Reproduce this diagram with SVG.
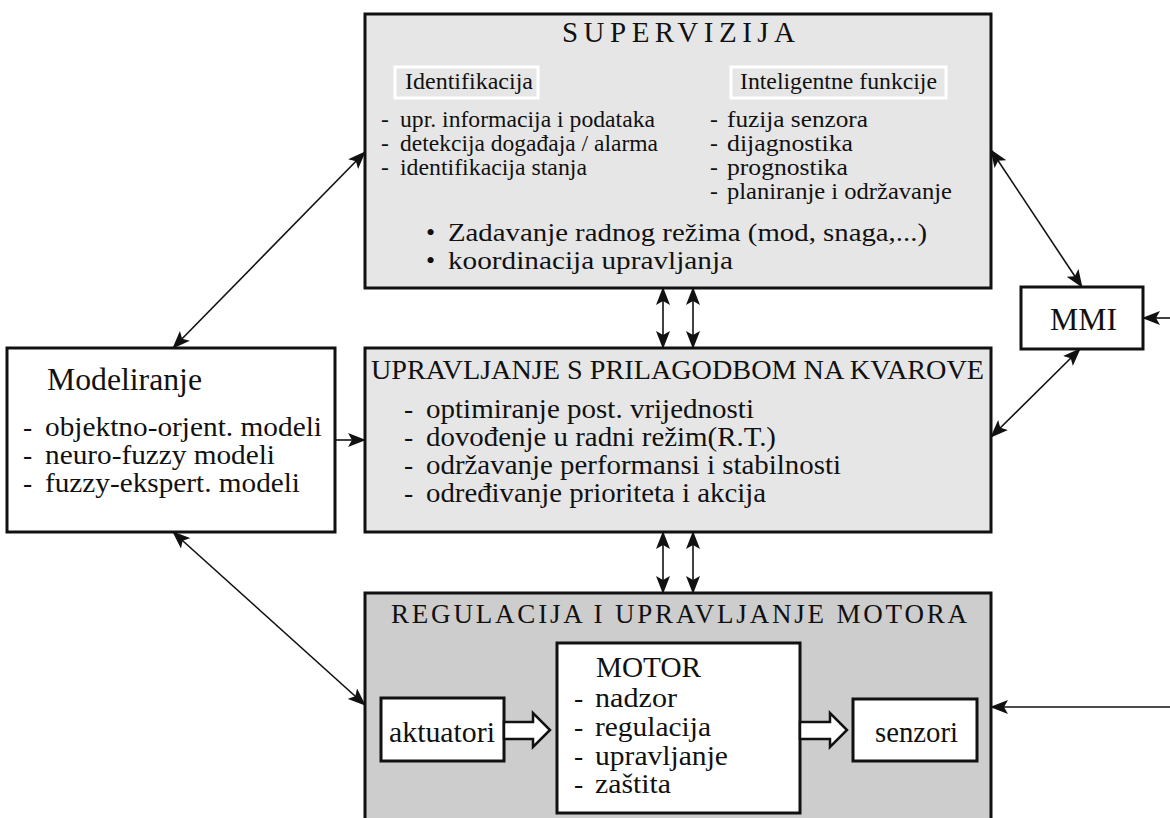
<svg xmlns="http://www.w3.org/2000/svg" width="1170" height="818" viewBox="0 0 1170 818">
<style>
text{font-family:"Liberation Serif","Times New Roman",serif;fill:#111;}
.box{stroke:#111;stroke-width:3;}
.lg{fill:#e6e6e6;}
.dg{fill:#cdcdcd;}
.wh{fill:#fff;}
.lab{fill:#e6e6e6;stroke:#fff;stroke-width:3;}
.con{stroke:#111;stroke-width:1.6;fill:none;}
.blk{fill:#fff;stroke:#111;stroke-width:2.5;stroke-linejoin:miter;}
.s23{font-size:23.5px;}
.s26{font-size:26px;}
.s27{font-size:27px;}
.s275{font-size:27.5px;}
.s29{font-size:29px;}
.s31{font-size:31px;}
</style>
<defs>
<marker id="ah" markerUnits="userSpaceOnUse" markerWidth="18" markerHeight="14" refX="17" refY="7" orient="auto-start-reverse" viewBox="0 0 18 14">
<path d="M0,0 L18,7 L0,14 L4,7 z" fill="#111"/>
</marker>
</defs>

<g id="supervizija">
<rect class="box lg" x="365" y="14" width="626" height="274"/>
<text class="s29" x="562" y="42" textLength="233" lengthAdjust="spacing">SUPERVIZIJA</text>
<rect class="lab" x="395" y="67" width="143" height="31"/>
<text class="s23" x="405" y="89" textLength="128" lengthAdjust="spacingAndGlyphs">Identifikacija</text>
<rect class="lab" x="731" y="67" width="215" height="31"/>
<text class="s23" x="740" y="89" textLength="197" lengthAdjust="spacingAndGlyphs">Inteligentne funkcije</text>
<text class="s23" x="381" y="127">-</text>
<text class="s23" x="400" y="127" textLength="255" lengthAdjust="spacingAndGlyphs">upr. informacija i podataka</text>
<text class="s23" x="381" y="151">-</text>
<text class="s23" x="400" y="151" textLength="258" lengthAdjust="spacingAndGlyphs">detekcija događaja / alarma</text>
<text class="s23" x="381" y="175">-</text>
<text class="s23" x="400" y="175" textLength="187" lengthAdjust="spacingAndGlyphs">identifikacija stanja</text>
<text class="s23" x="710" y="127">-</text>
<text class="s23" x="727" y="127" textLength="141" lengthAdjust="spacingAndGlyphs">fuzija senzora</text>
<text class="s23" x="710" y="151">-</text>
<text class="s23" x="727" y="151" textLength="126" lengthAdjust="spacingAndGlyphs">dijagnostika</text>
<text class="s23" x="710" y="175">-</text>
<text class="s23" x="727" y="175" textLength="121" lengthAdjust="spacingAndGlyphs">prognostika</text>
<text class="s23" x="710" y="199">-</text>
<text class="s23" x="727" y="199" textLength="225" lengthAdjust="spacingAndGlyphs">planiranje i održavanje</text>
<text class="s26" x="426" y="241">•</text>
<text class="s26" x="448" y="241" textLength="479" lengthAdjust="spacingAndGlyphs">Zadavanje radnog režima (mod, snaga,...)</text>
<text class="s26" x="426" y="269">•</text>
<text class="s26" x="448" y="269" textLength="285" lengthAdjust="spacingAndGlyphs">koordinacija upravljanja</text>
</g>

<g id="upravljanje">
<rect class="box lg" x="365" y="348" width="626" height="184"/>
<text class="s27" x="371" y="379" textLength="613" lengthAdjust="spacingAndGlyphs">UPRAVLJANJE S PRILAGODBOM NA KVAROVE</text>
<text class="s275" x="404" y="418">-</text>
<text class="s275" x="426" y="418" textLength="328" lengthAdjust="spacingAndGlyphs">optimiranje post. vrijednosti</text>
<text class="s275" x="404" y="446">-</text>
<text class="s275" x="426" y="446" textLength="350" lengthAdjust="spacingAndGlyphs">dovođenje u radni režim(R.T.)</text>
<text class="s275" x="404" y="474">-</text>
<text class="s275" x="426" y="474" textLength="415" lengthAdjust="spacingAndGlyphs">održavanje performansi i stabilnosti</text>
<text class="s275" x="404" y="502">-</text>
<text class="s275" x="426" y="502" textLength="340" lengthAdjust="spacingAndGlyphs">određivanje prioriteta i akcija</text>
</g>

<g id="modeliranje">
<rect class="box wh" x="7" y="348" width="328" height="184"/>
<text class="s31" x="47" y="390" textLength="155" lengthAdjust="spacingAndGlyphs">Modeliranje</text>
<text class="s275" x="23" y="436">-</text>
<text class="s275" x="45" y="436" textLength="277" lengthAdjust="spacingAndGlyphs">objektno-orjent. modeli</text>
<text class="s275" x="23" y="464">-</text>
<text class="s275" x="45" y="464" textLength="230" lengthAdjust="spacingAndGlyphs">neuro-fuzzy modeli</text>
<text class="s275" x="23" y="492">-</text>
<text class="s275" x="45" y="492" textLength="255" lengthAdjust="spacingAndGlyphs">fuzzy-ekspert. modeli</text>
</g>

<g id="mmi">
<rect class="box wh" x="1021" y="287" width="122" height="62"/>
<text class="s31" x="1050" y="330" textLength="67" lengthAdjust="spacingAndGlyphs">MMI</text>
</g>

<g id="regulacija">
<rect class="box dg" x="365" y="593" width="626" height="240"/>
<text class="s27" x="391" y="623" textLength="576" lengthAdjust="spacing">REGULACIJA I UPRAVLJANJE MOTORA</text>
</g>

<g id="aktuatori">
<rect class="box wh" x="381" y="698" width="123" height="63"/>
<text class="s29" x="389" y="742" textLength="106" lengthAdjust="spacingAndGlyphs">aktuatori</text>
</g>

<g id="motor">
<rect class="box wh" x="557" y="643" width="243" height="170"/>
<text class="s29" x="596" y="677" textLength="105" lengthAdjust="spacingAndGlyphs">MOTOR</text>
<text class="s275" x="574" y="707">-</text>
<text class="s275" x="595" y="707" textLength="82" lengthAdjust="spacingAndGlyphs">nadzor</text>
<text class="s275" x="574" y="736">-</text>
<text class="s275" x="595" y="736" textLength="116" lengthAdjust="spacingAndGlyphs">regulacija</text>
<text class="s275" x="574" y="765">-</text>
<text class="s275" x="595" y="765" textLength="133" lengthAdjust="spacingAndGlyphs">upravljanje</text>
<text class="s275" x="574" y="793">-</text>
<text class="s275" x="595" y="793" textLength="76" lengthAdjust="spacingAndGlyphs">zaštita</text>
</g>

<g id="senzori">
<rect class="box wh" x="853" y="699" width="124" height="62"/>
<text class="s29" x="875" y="742" textLength="83" lengthAdjust="spacingAndGlyphs">senzori</text>
</g>

<g id="connectors">
<line class="con" x1="173" y1="348" x2="365" y2="152" marker-start="url(#ah)" marker-end="url(#ah)"/>
<line class="con" x1="335" y1="440" x2="365" y2="440" marker-end="url(#ah)"/>
<line class="con" x1="173" y1="532" x2="365" y2="705" marker-start="url(#ah)" marker-end="url(#ah)"/>
<line class="con" x1="663" y1="288" x2="663" y2="348" marker-start="url(#ah)" marker-end="url(#ah)"/>
<line class="con" x1="693" y1="288" x2="693" y2="348" marker-start="url(#ah)" marker-end="url(#ah)"/>
<line class="con" x1="663" y1="532" x2="663" y2="593" marker-start="url(#ah)" marker-end="url(#ah)"/>
<line class="con" x1="693" y1="532" x2="693" y2="593" marker-start="url(#ah)" marker-end="url(#ah)"/>
<line class="con" x1="991" y1="150" x2="1082" y2="287" marker-start="url(#ah)" marker-end="url(#ah)"/>
<line class="con" x1="1080" y1="349" x2="991" y2="437" marker-start="url(#ah)" marker-end="url(#ah)"/>
<line class="con" x1="1170" y1="318" x2="1143" y2="318" marker-end="url(#ah)"/>
<line class="con" x1="1170" y1="707" x2="991" y2="707" marker-end="url(#ah)"/>
<polygon class="blk" points="504,722 533,722 533,713 550,730 533,747 533,739 504,739"/>
<polygon class="blk" points="800,722 830,722 830,713 847,730 830,747 830,739 800,739"/>
</g>
</svg>
